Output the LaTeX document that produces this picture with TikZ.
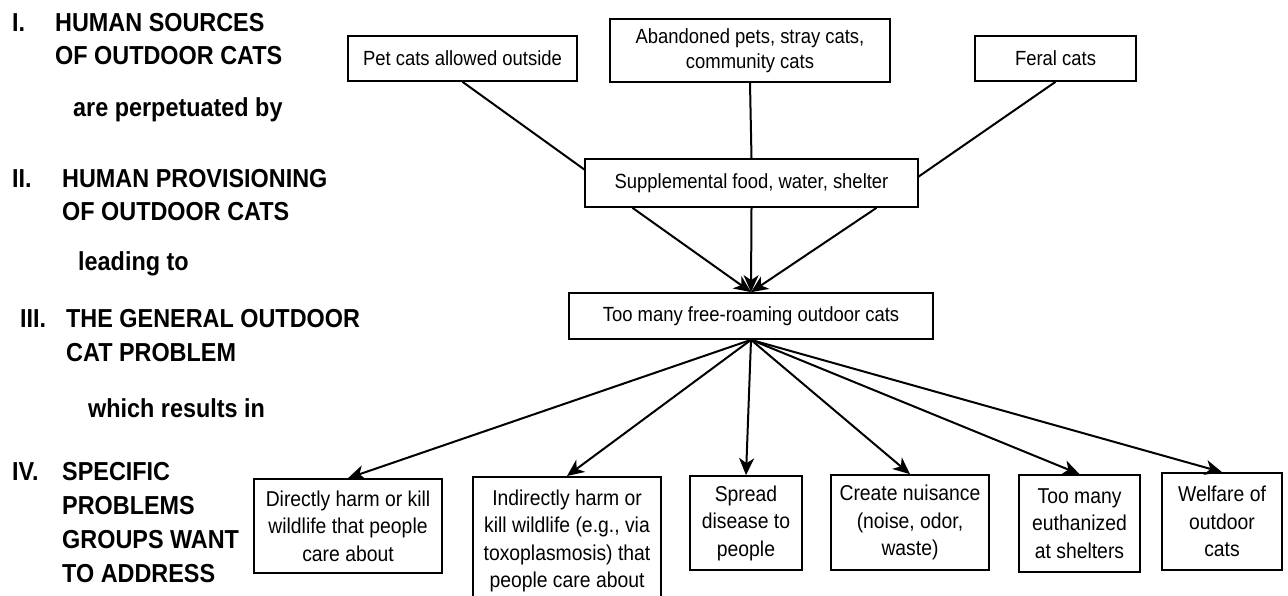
\documentclass[tikz,border=0pt]{standalone}
\usepackage{fontspec}
\setmainfont{Liberation Sans}[FakeStretch=0.9]
\usetikzlibrary{arrows.meta,calc}
\begin{document}
\begin{tikzpicture}[x=1pt,y=-1pt,
  box/.style={draw, line width=1.7pt, fill=white, align=center, inner sep=0pt,
    font=\fontsize{21.5}{27.5}\selectfont},
  topbox/.style={box, font=\fontsize{20.5}{26}\selectfont},
  conn/.style={line width=2pt},
  arr/.style={line width=2pt, -{Stealth[length=17pt,width=15pt,inset=5pt]}},
  head/.style={anchor=base west, inner sep=0pt, font=\fontsize{26}{30}\selectfont\bfseries}]
\useasboundingbox (0,0) rectangle (1288,596);

% left headings
\node[head] (n1) at (12,32) {I.};
\node[head] (h1a) at (55,32) {HUMAN SOURCES};
\node[head] (h1b) at (55,65) {OF OUTDOOR CATS};
\node[head] (c1) at (73,117) {are perpetuated by};
\node[head] (n2) at (12,188) {II.};
\node[head] (h2a) at (62,188) {HUMAN PROVISIONING};
\node[head] (h2b) at (62,221) {OF OUTDOOR CATS};
\node[head] (c2) at (78,270) {leading to};
\node[head] (n3) at (20,327) {III.};
\node[head] (h3a) at (66,327) {THE GENERAL OUTDOOR};
\node[head] (h3b) at (66,361) {CAT PROBLEM};
\node[head] (c3) at (88,417) {which results in};
\node[head] (n4) at (12,480) {IV.};
\node[head] (h4a) at (62,480) {SPECIFIC};
\node[head] (h4b) at (62,514) {PROBLEMS};
\node[head] (h4c) at (62,548) {GROUPS WANT};
\node[head] (h4d) at (62,582) {TO ADDRESS};

% top boxes
\node[topbox, minimum width=229pt, minimum height=45pt] (pet) at (462.5,58.5) {Pet cats allowed outside};
\node[topbox, minimum width=280pt, minimum height=63pt] (aband) at (750,50.5) {\raisebox{-3pt}{\begin{tabular}{@{}c@{}}Abandoned pets, stray cats,\\[-1pt]community cats\end{tabular}}};
\node[topbox, minimum width=161pt, minimum height=45pt] (feral) at (1055.5,58.5) {Feral cats};

% connectors to supplemental
\coordinate (sl) at (585,170);
\coordinate (sr) at (918,177);
\node[topbox, minimum width=333pt, minimum height=48pt] (supp) at (751.5,183) {Supplemental food, water, shelter};
\draw[conn] (pet.south) -- (sl);
\draw[conn] (aband.south) -- (supp.north);
\draw[conn] (feral.south) -- (sr);

% too many
\node[topbox, minimum width=364pt, minimum height=46pt] (many) at (751,316) {Too many free-roaming outdoor cats};
\draw[arr] ($(supp.south)+(-119,0)$) -- (many.north);
\draw[arr] (supp.south) -- (many.north);
\draw[arr] ($(supp.south)+(125,0)$) -- (many.north);

% bottom boxes
\node[box, minimum width=188pt, minimum height=94pt] (b1) at (348,526) {Directly harm or kill\\wildlife that people\\care about};
\node[box, minimum width=188pt, minimum height=128pt, anchor=north] (b2) at (567,476) {Indirectly harm or\\kill wildlife (e.g., via\\toxoplasmosis) that\\people care about};
\node[box, minimum width=112pt, minimum height=94pt] (b3) at (746,523) {Spread\\disease to\\people};
\node[box, minimum width=158pt, minimum height=95pt] (b4) at (910,522.5) {Create nuisance\\(noise, odor,\\waste)};
\node[box, minimum width=121pt, minimum height=97pt] (b5) at (1079.5,523.5) {Too many\\euthanized\\at shelters};
\node[box, minimum width=120pt, minimum height=97pt] (b6) at (1222,521.5) {Welfare of\\outdoor\\cats};

\foreach \b in {b1,b2,b3,b4,b5,b6}
  \draw[arr] (many.south) -- (\b.north);
\end{tikzpicture}
\end{document}
